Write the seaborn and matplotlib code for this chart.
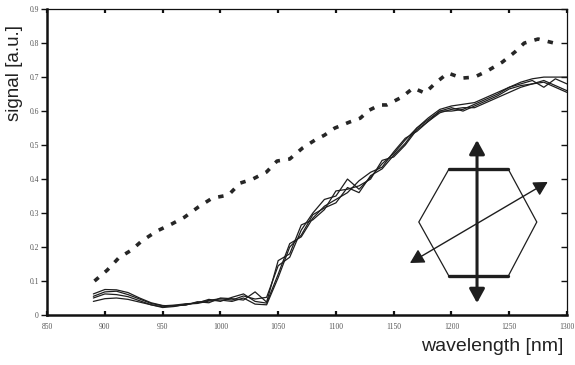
import matplotlib
matplotlib.use("Agg")
import matplotlib.pyplot as plt
import pandas as pd
import seaborn as sns
from matplotlib.patches import Polygon

# dashed reference curve
ref_wl = [891, 902, 912, 923, 932, 945, 958, 969, 981, 993, 1007, 1017, 1028,
          1040, 1049, 1060, 1071, 1082, 1090, 1099, 1112, 1121, 1129, 1138, 1144,
          1157, 1167, 1177, 1187, 1197, 1209, 1220, 1231, 1244, 1255, 1263, 1275, 1289]
ref_sig = [0.100, 0.132, 0.168, 0.191, 0.218, 0.247, 0.268, 0.288, 0.318, 0.344,
           0.353, 0.388, 0.400, 0.421, 0.453, 0.459, 0.491, 0.515, 0.529, 0.550,
           0.568, 0.579, 0.603, 0.618, 0.618, 0.641, 0.668, 0.653, 0.685, 0.712,
           0.697, 0.700, 0.718, 0.744, 0.774, 0.800, 0.812, 0.800]

# four measured curves on a 10 nm grid
wl = list(range(890, 1301, 10))
sig_1 = [0.062, 0.075, 0.074, 0.066, 0.050, 0.036, 0.028, 0.026, 0.030, 0.037, 0.043,
         0.048, 0.044, 0.056, 0.047, 0.052, 0.145, 0.170, 0.250, 0.300, 0.340, 0.350,
         0.400, 0.370, 0.405, 0.445, 0.475, 0.515, 0.550, 0.580, 0.605, 0.615, 0.620,
         0.625, 0.640, 0.655, 0.670, 0.685, 0.695, 0.700, 0.700, 0.700]
sig_2 = [0.055, 0.068, 0.070, 0.060, 0.047, 0.034, 0.027, 0.029, 0.033, 0.035, 0.046,
         0.040, 0.052, 0.062, 0.040, 0.035, 0.120, 0.210, 0.230, 0.285, 0.320, 0.340,
         0.360, 0.395, 0.420, 0.435, 0.480, 0.520, 0.540, 0.570, 0.600, 0.600, 0.605,
         0.620, 0.635, 0.650, 0.670, 0.680, 0.690, 0.670, 0.695, 0.680]
sig_3 = [0.050, 0.062, 0.060, 0.054, 0.042, 0.030, 0.024, 0.028, 0.029, 0.039, 0.036,
         0.050, 0.048, 0.044, 0.068, 0.038, 0.160, 0.180, 0.265, 0.280, 0.310, 0.365,
         0.370, 0.380, 0.400, 0.455, 0.465, 0.500, 0.545, 0.570, 0.595, 0.605, 0.610,
         0.610, 0.625, 0.640, 0.655, 0.670, 0.680, 0.690, 0.675, 0.660]
sig_4 = [0.040, 0.048, 0.050, 0.046, 0.038, 0.030, 0.022, 0.025, 0.032, 0.034, 0.041,
         0.044, 0.040, 0.050, 0.032, 0.030, 0.110, 0.200, 0.235, 0.295, 0.315, 0.330,
         0.375, 0.360, 0.410, 0.430, 0.470, 0.505, 0.550, 0.575, 0.600, 0.610, 0.600,
         0.615, 0.630, 0.645, 0.665, 0.675, 0.680, 0.685, 0.670, 0.655]

x_ticks = [850, 900, 950, 1000, 1050, 1100, 1150, 1200, 1250, 1300]
y_ticks = [0, 0.1, 0.2, 0.3, 0.4, 0.5, 0.6, 0.7, 0.8, 0.9]

sns.set_style("ticks")
plt.rcParams['font.family'] = ['Liberation Sans', 'DejaVu Sans']

fig = plt.figure(figsize=(5.75, 3.65), dpi=100)
ax = fig.add_axes([0.082, 0.137, 0.904, 0.838])

ink = "#1e1e1e"
for sig in (sig_1, sig_2, sig_3, sig_4):
    sns.lineplot(x=wl, y=sig, ax=ax, color=ink, linewidth=0.9)

dash_df = pd.DataFrame({"wl": ref_wl, "sig": ref_sig})
sns.lineplot(data=dash_df, x="wl", y="sig", ax=ax, color="#262626",
             linewidth=2.6, dashes=False)
ax.lines[-1].set_dashes((1.5, 2.3))

ax.set_xlim(850, 1300)
ax.set_ylim(0, 0.9)
ax.set_xticks(x_ticks)
ax.set_yticks(y_ticks)
ax.set_xticklabels([str(v) for v in x_ticks], fontsize=5.5, color="#555555",
                   family="Liberation Serif")
ax.set_yticklabels(["0" if v == 0 else f"{v:.1f}" for v in y_ticks], fontsize=5.5,
                   color="#555555", family="Liberation Serif")
ax.tick_params(axis="x", direction="in", length=3, width=1.6, top=True,
               color="#111111", pad=6)
ax.tick_params(axis="y", direction="out", length=4, width=1.0, color="#111111", pad=2)
ax.tick_params(axis="y", which="both", right=True)
for t in ax.yaxis.get_ticklines()[1::2]:
    t.set_marker(0)
    t.set_markersize(4)

ax.spines["left"].set_linewidth(1.8)
ax.spines["bottom"].set_linewidth(1.8)
ax.spines["top"].set_linewidth(0.9)
ax.spines["right"].set_linewidth(0.9)
for s in ax.spines.values():
    s.set_color("#111111")

ax.set_xlabel("")
ax.set_ylabel("")
fig.text(0.026, 0.80, "signal [a.u.]", rotation=90, ha="center", va="center",
         fontsize=13.5, color="#222222")
fig.text(0.98, 0.05, "wavelength [nm]", ha="right", va="center", fontsize=14,
         color="#222222")

# hexagon inset with polarisation arrows (axes coordinates)
tr = ax.transAxes
hexagon = Polygon([(0.773, 0.477), (0.887, 0.477), (0.942, 0.304),
                   (0.887, 0.127), (0.773, 0.127), (0.715, 0.304)],
                  closed=True, fill=False, edgecolor=ink, linewidth=0.9, transform=tr)
ax.add_patch(hexagon)
ax.plot([0.773, 0.887], [0.477, 0.477], color=ink, linewidth=2.4, transform=tr)
ax.plot([0.773, 0.887], [0.127, 0.127], color=ink, linewidth=2.4, transform=tr)
ax.annotate("", xy=(0.827, 0.572), xytext=(0.827, 0.039), xycoords=tr, textcoords=tr,
            arrowprops=dict(arrowstyle="<|-|>,head_length=0.6,head_width=0.33",
                            mutation_scale=14, color=ink, linewidth=2.2,
                            shrinkA=0, shrinkB=0))
ax.annotate("", xy=(0.963, 0.435), xytext=(0.698, 0.170), xycoords=tr, textcoords=tr,
            arrowprops=dict(arrowstyle="<|-|>,head_length=0.6,head_width=0.33",
                            mutation_scale=14, color=ink, linewidth=1.0,
                            shrinkA=0, shrinkB=0))

fig.savefig("out.png", dpi=100)
